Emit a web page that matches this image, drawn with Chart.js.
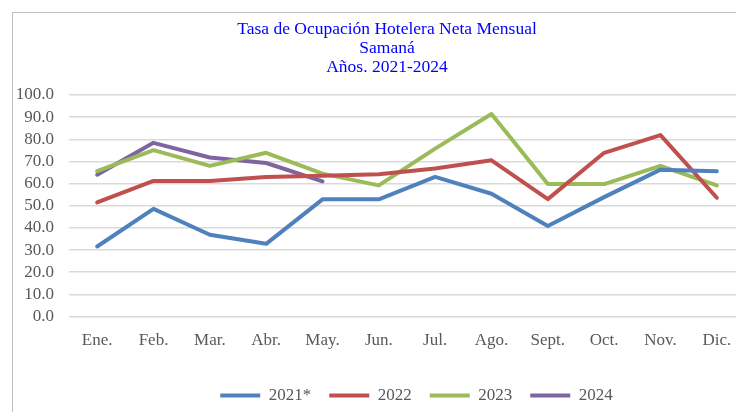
<!DOCTYPE html>
<html>
<head>
<meta charset="utf-8">
<script src="https://cdn.jsdelivr.net/npm/chart.js@4"></script>
<style>
  html, body { margin: 0; padding: 0; background: #fff; width: 736px; height: 412px; overflow: hidden; }
  #frame { position: absolute; left: 12px; top: 12px; width: 900px; height: 500px; border: 1.5px solid #bfbfbf; }
  #title { position: absolute; left: 187px; top: 19px; width: 400px; text-align: center;
           font-family: "Liberation Serif", serif; font-size: 17.5px; line-height: 19px; color: #0000ff; }
  #chart { position: absolute; left: 0; top: 0; }
</style>
</head>
<body>
<div id="frame"></div>
<canvas id="chart" width="833" height="414"></canvas>
<div id="title">Tasa de Ocupación Hotelera Neta Mensual<br>Samaná<br>Años. 2021-2024</div>
<script>
// months and yearly series (%)
var months = ["Ene.", "Feb.", "Mar.", "Abr.", "May.", "Jun.", "Jul.", "Ago.", "Sept.", "Oct.", "Nov.", "Dic."];
var year_labels = ["2021*", "2022", "2023", "2024"];
var values_2021 = [31.6, 48.6, 36.9, 32.8, 52.9, 52.9, 63.0, 55.4, 40.9, 53.9, 66.3, 65.6];
var values_2022 = [51.5, 61.2, 61.2, 63.0, 63.6, 64.2, 66.8, 70.5, 53.0, 73.9, 81.9, 53.6];
var values_2023 = [65.6, 75.1, 68.0, 73.9, 64.5, 59.2, 75.8, 91.4, 59.8, 59.8, 68.0, 59.2];
var values_2024 = [64.0, 78.4, 71.8, 69.3, 61.0];
var y_ticks = [0, 10, 20, 30, 40, 50, 60, 70, 80, 90, 100];

var line_colors = ["#4f81bd", "#c0504d", "#9bbb59", "#8064a2"];
var all_values = [values_2021, values_2022, values_2023, values_2024];

// build datasets
let datasets = [];
all_values.forEach((vals, i) => {
    datasets.push({
        label: year_labels[i],
        data: vals,
        borderColor: line_colors[i],
        backgroundColor: line_colors[i],
        borderWidth: 4,
        borderCapStyle: "round",
        borderJoinStyle: "round",
        pointRadius: 0,
        tension: 0,
        fill: false
    });
});

// legend in the reference sits a bit right of the canvas centre
const legendShift = {
    id: "legendShift",
    afterLayout(chart) {
        chart.legend.left += 44;
        chart.legend.right += 44;
    }
};

let ctx = document.getElementById("chart");

let occupancy_chart = new Chart(ctx, {
    type: "line",
    data: {
        labels: months,
        datasets: datasets
    },
    plugins: [legendShift],
    options: {
        responsive: false,
        animation: false,
        layout: {
            padding: { top: 95, right: 88, left: 0, bottom: 0 }
        },
        plugins: {
            tooltip: { enabled: false },
            legend: {
                position: "bottom",
                labels: {
                    usePointStyle: true,
                    pointStyle: "line",
                    pointStyleWidth: 40,
                    padding: 18,
                    color: "#595959",
                    font: { family: "Liberation Serif", size: 17 }
                }
            }
        },
        scales: {
            x: {
                offset: true,
                grid: { display: false },
                border: { display: false },
                ticks: {
                    color: "#595959",
                    padding: 6,
                    maxRotation: 0,
                    autoSkip: false,
                    font: { family: "Liberation Serif", size: 17 }
                },
                afterFit: function (scale) { scale.height = 52.5; }
            },
            y: {
                min: 0,
                max: 100,
                afterBuildTicks: function (scale) {
                    scale.ticks = y_ticks.map(v => ({ value: v }));
                },
                grid: { color: "#d9d9d9", lineWidth: 1.5, drawTicks: false },
                border: { display: false },
                ticks: {
                    color: "#595959",
                    padding: 15,
                    autoSkip: false,
                    font: { family: "Liberation Serif", size: 17 },
                    callback: function (v) { return Number(v).toFixed(1); }
                },
                afterFit: function (scale) { scale.width = 69; }
            }
        }
    }
});
</script>
</body>
</html>
